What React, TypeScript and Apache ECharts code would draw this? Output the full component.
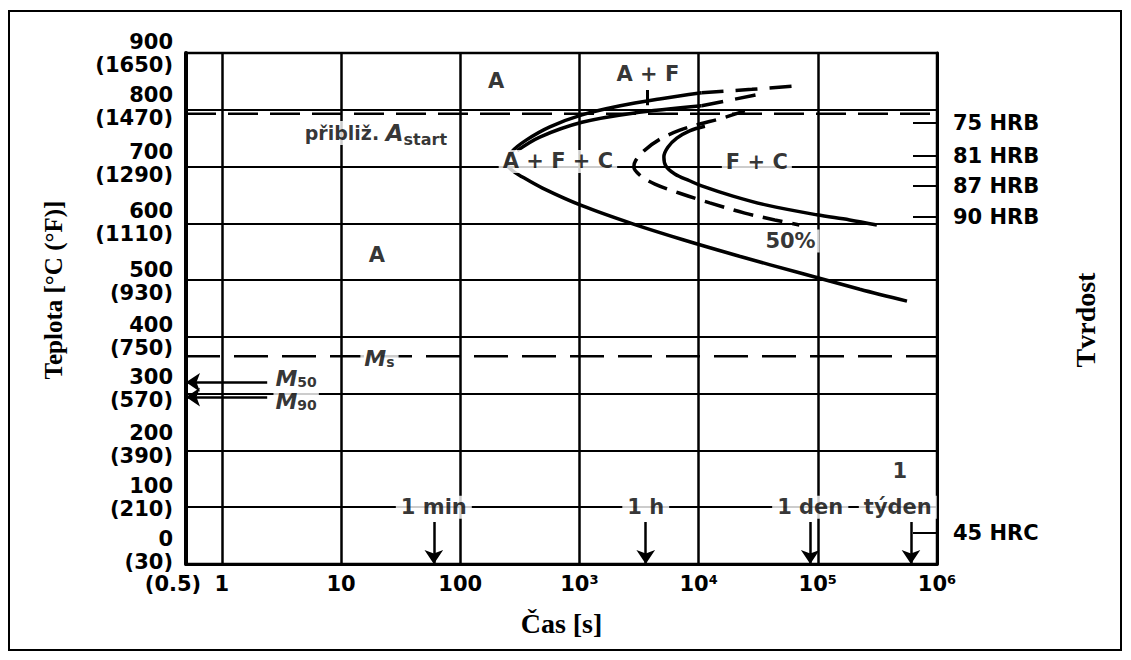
import React, { useEffect, useRef } from "react";
import * as echarts from "echarts";

// Time axis (seconds, logarithmic)
const timeTickValues = [0.5, 1, 10, 100, 1000, 10000, 100000, 1000000];
const timeTickLabels = ["(0.5)", "1", "10", "100", "10³", "10⁴", "10⁵", "10⁶"];

// Temperature axis: °C ticks with the °F equivalent underneath
const tempTicks = [0, 100, 200, 300, 400, 500, 600, 700, 800, 900];
const fahrenheitLabels = ["30", "210", "390", "570", "750", "930", "1110", "1290", "1470", "1650"];
// upward nudge (px) of each temperature label, 0 °C first
const tempLabelLift = [14, 10, 6, 5, 0, -1, 1, 3, 3, 0];

// Hardness of the product formed at a given temperature
const hardnessTemps = [777, 719, 666, 611, 55];
const hardnessLabels = ["75 HRB", "81 HRB", "87 HRB", "90 HRB", "45 HRC"];

// Transformation curves, [time s, temperature °C]
const startCurve = [
  [10600, 830], [4700, 819], [2200, 807], [1050, 791], [565, 770], [360, 747],
  [270, 726], [245, 706], [270, 694], [330, 682], [490, 662], [1050, 631],
  [2800, 599], [7400, 571], [22000, 542], [70000, 513], [225000, 484], [560000, 463],
];
const startCurveTail = [[10600, 830], [28000, 836], [67000, 842]];
const carbideStart = [[300, 728], [465, 752], [1050, 778], [2800, 794], [10600, 807]];
const carbideStartTail = [[10600, 807], [30000, 826]];
const halfCurve = [
  [24400, 798], [15000, 784], [10200, 775], [6950, 764], [4720, 748], [3540, 729],
  [2970, 711], [2860, 699], [3210, 685], [4300, 669], [6950, 653], [12400, 636],
  [24400, 618], [43600, 606], [70000, 597],
];
const finishCurve = [
  [11300, 771], [8400, 763], [6560, 750], [5520, 734], [5110, 717], [5310, 701],
  [6310, 687], [8400, 675], [10600, 666], [19400, 648], [37300, 632], [98000, 615],
  [185000, 606], [313000, 597],
];

// Characteristic temperatures, °C
const aStartTemp = 793;
const msTemp = 366;
const m50Temp = 320;
const m90Temp = 294;
const mArrowFrom = 2.4;

// Marker for the A + F field
const afMarker = [[3680, 835], [3680, 808]];

// Time markers on the time axis
const timeMarkSeconds = [60, 3600, 86400, 604800];
const timeMarkNames = ["1 min", "1 h", "1 den", "týden"];
const timeMarkLabelAt = [[60, 100], [3600, 100], [86400, 100], [469000, 100]];
const timeMarkArrowTop = 74;

// Phase fields
const regionNames = ["A", "A + F", "A + F + C", "F + C", "50%", "A"];
const regionPoints = [[200, 850], [3750, 863], [660, 709], [30800, 708], [59000, 569], [20, 544]];

const FONT = "'DejaVu Sans', Verdana, sans-serif";
const SERIF = "'Liberation Serif', 'Times New Roman', serif";

const GRID_TOP = 45;
const GRID_BOTTOM = 88;
const CHART_H = 644;
const PX_PER_DEG = (CHART_H - GRID_TOP - GRID_BOTTOM) / 900;

// label anchor values on the temperature axis (tick value plus a small lift)
const tempLabelAt = tempTicks.map((t, i) => t + tempLabelLift[i] / PX_PER_DEG);

const boldText = { color: "#000", fontFamily: FONT, fontWeight: "bold" as const };

function curve(name: string, data: number[][], dashed: number[] | null) {
  return {
    name,
    type: "line",
    data,
    smooth: 0.35,
    symbol: "none",
    showSymbol: false,
    silent: true,
    z: 3,
    lineStyle: { color: "#000", width: 3.5, type: dashed ?? "solid", cap: "butt" },
  };
}

function flatLine(name: string, temp: number, dash: number[]) {
  return {
    name,
    type: "line",
    data: [[timeTickValues[0], temp], [timeTickValues[timeTickValues.length - 1], temp]],
    symbol: "none",
    showSymbol: false,
    silent: true,
    z: 3,
    lineStyle: { color: "#000", width: 2.5, type: dash },
  };
}

function tickIndex(v: number) {
  return timeTickValues.findIndex((t) => Math.abs(Math.log10(t) - Math.log10(v)) < 0.01);
}

export default function App() {
  const ref = useRef<HTMLDivElement>(null);

  useEffect(() => {
    if (!ref.current) return;
    const chart = echarts.init(ref.current, undefined, { renderer: "svg" });

    const labelItems: any[] = [];
    regionNames.forEach((n, i) => {
      labelItems.push({ value: regionPoints[i], label: { formatter: n } });
    });
    timeMarkNames.forEach((n, i) => {
      labelItems.push({ value: timeMarkLabelAt[i], label: { formatter: n, padding: [1, 5] } });
    });
    labelItems.push({ value: [487000, 163], label: { formatter: "1" } });
    labelItems.push({ value: [21, 362], label: { formatter: "{m|M}{s|s}" } });
    labelItems.push({ value: [4.2, 326], label: { formatter: "{m|M}{s|50}", padding: [0, 2] } });
    labelItems.push({ value: [4.2, 286], label: { formatter: "{m|M}{s|90}", padding: [0, 2] } });
    labelItems.push({
      value: [19.6, 759],
      label: { formatter: "{n|přibliž. }{a|A}{b|start}" },
    });

    const arrowData = timeMarkSeconds.map((t) => ({ coords: [[t, timeMarkArrowTop], [t, 0]] }));
    arrowData.push({ coords: [[mArrowFrom, m50Temp], [timeTickValues[0], m50Temp]] });
    arrowData.push({ coords: [[mArrowFrom, m90Temp], [timeTickValues[0], m90Temp]] });

    const option: any = {
      animation: false,
      backgroundColor: "#fff",
      grid: {
        left: 178,
        top: GRID_TOP,
        right: 186,
        bottom: GRID_BOTTOM,
        show: true,
        borderColor: "#000",
        borderWidth: 2.5,
        containLabel: false,
        outerBoundsMode: "none",
      },
      xAxis: {
        type: "log",
        logBase: 10,
        min: timeTickValues[0],
        max: timeTickValues[timeTickValues.length - 1],
        name: "Čas [s]",
        nameLocation: "middle",
        nameGap: 45,
        nameTextStyle: { color: "#000", fontFamily: SERIF, fontWeight: "bold", fontSize: 28 },
        axisLine: { show: true, lineStyle: { color: "#000", width: 3 } },
        axisTick: { show: false },
        minorTick: { show: false },
        splitLine: { show: true, lineStyle: { color: "#000", width: 2.5 } },
        axisLabel: {
          ...boldText,
          fontSize: 21,
          margin: 9,
          showMinLabel: true,
          showMaxLabel: true,
          hideOverlap: false,
          formatter: (v: number) => {
            const i = tickIndex(v);
            if (i < 0) return "";
            return i === 0 ? `{p|${timeTickLabels[0]}}` : `{b|${timeTickLabels[i]}}`;
          },
          rich: {
            p: { ...boldText, fontSize: 21, padding: [0, 26, 0, 0] },
            b: { ...boldText, fontSize: 21 },
          },
        },
      },
      yAxis: [
        {
          type: "value",
          min: 0,
          max: 900,
          interval: 100,
          position: "left",
          axisLine: { show: true, onZero: false, lineStyle: { color: "#000", width: 4 } },
          axisTick: { show: false },
          splitLine: { show: true, lineStyle: { color: "#000", width: 2 } },
          axisLabel: {
            ...boldText,
            fontSize: 21,
            lineHeight: 23,
            margin: 13,
            align: "right",
            showMinLabel: true,
            showMaxLabel: true,
            hideOverlap: false,
            customValues: tempLabelAt,
            formatter: (v: number) => {
              const i = Math.round(v / 100);
              return `${tempTicks[i]}\n(${fahrenheitLabels[i]})`;
            },
          },
        },
        {
          type: "value",
          min: 0,
          max: 900,
          position: "right",
          axisLine: { show: true, onZero: false, lineStyle: { color: "#000", width: 3 } },
          splitLine: { show: false },
          axisTick: {
            show: true,
            inside: true,
            length: 24,
            customValues: hardnessTemps,
            lineStyle: { color: "#000", width: 2 },
          },
          axisLabel: {
            ...boldText,
            fontSize: 21,
            margin: 16,
            customValues: hardnessTemps,
            formatter: (v: number) => {
              const i = hardnessTemps.indexOf(v);
              return i >= 0 ? hardnessLabels[i] : "";
            },
          },
        },
      ],
      series: [
        flatLine("Astart", aStartTemp, [30, 12]),
        flatLine("Ms", msTemp, [34, 14]),
        curve("start", startCurve, null),
        curve("startTail", startCurveTail, [22, 12]),
        curve("carbideStart", carbideStart, null),
        curve("carbideStartTail", carbideStartTail, [22, 12]),
        curve("50%", halfCurve, [20, 10]),
        curve("finish", finishCurve, null),
        {
          name: "marker",
          type: "lines",
          coordinateSystem: "cartesian2d",
          silent: true,
          z: 4,
          symbol: "none",
          lineStyle: { color: "#000", width: 3, opacity: 1 },
          data: [{ coords: afMarker }],
        },
        {
          name: "arrows",
          type: "lines",
          coordinateSystem: "cartesian2d",
          silent: true,
          z: 4,
          symbol: ["none", "arrow"],
          symbolSize: [1, 14],
          lineStyle: { color: "#000", width: 2.5, opacity: 1 },
          data: arrowData,
        },
        {
          name: "labels",
          type: "scatter",
          symbolSize: 1,
          silent: true,
          z: 10,
          itemStyle: { color: "transparent" },
          label: {
            show: true,
            position: "inside",
            ...boldText,
            fontSize: 21,
            backgroundColor: "#fff",
            padding: [1, 4],
            rich: {
              m: { ...boldText, fontStyle: "italic", fontSize: 22, lineHeight: 18 },
              s: { ...boldText, fontSize: 14, lineHeight: 12, padding: [7, 0, 0, 0] },
              n: { ...boldText, fontSize: 19, lineHeight: 22 },
              a: { ...boldText, fontStyle: "italic", fontSize: 23, lineHeight: 22 },
              b: { ...boldText, fontSize: 16, lineHeight: 14, padding: [12, 0, 0, 0] },
            },
          },
          data: labelItems,
        },
      ],
      graphic: [
        {
          type: "rect",
          silent: true,
          z: 100,
          shape: { x: 1, y: 3, width: 1112, height: 639 },
          style: { fill: "none", stroke: "#000", lineWidth: 2 },
        },
        {
          type: "text",
          silent: true,
          z: 100,
          x: 45,
          y: 282,
          rotation: Math.PI / 2,
          style: {
            text: "Teplota [°C (°F)]",
            fill: "#000",
            fontFamily: SERIF,
            fontWeight: "bold",
            fontSize: 25,
            align: "center",
            verticalAlign: "middle",
          },
        },
        {
          type: "text",
          silent: true,
          z: 100,
          x: 1077,
          y: 312,
          rotation: Math.PI / 2,
          style: {
            text: "Tvrdost",
            fill: "#000",
            fontFamily: SERIF,
            fontWeight: "bold",
            fontSize: 28,
            align: "center",
            verticalAlign: "middle",
          },
        },
      ],
    };

    chart.setOption(option);
    return () => chart.dispose();
  }, []);

  return <div ref={ref} style={{ width: 1115, height: 644 }} />;
}
